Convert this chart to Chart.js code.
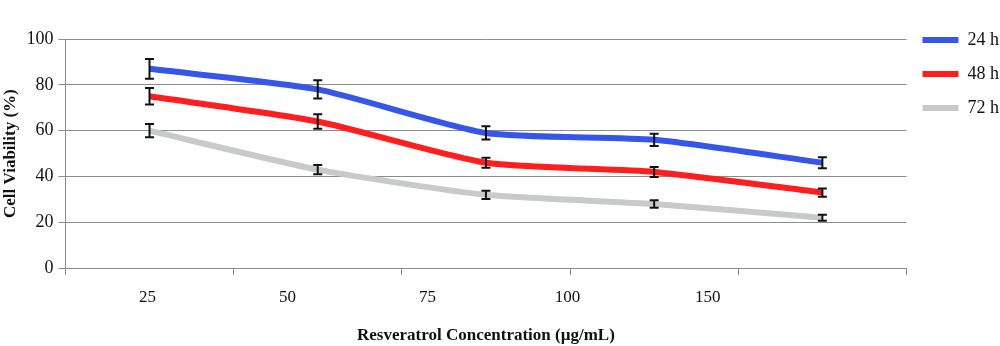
<!DOCTYPE html>
<html>
<head>
<meta charset="utf-8">
<script src="https://cdn.jsdelivr.net/npm/chart.js@4.4.1/dist/chart.umd.min.js"></script>
<style>
  html, body { margin: 0; padding: 0; background: #fff; }
  #wrap { width: 1000px; height: 346px; }
</style>
</head>
<body>
<div id="wrap"><canvas id="chart"></canvas></div>
<script>
// Values
const concLabels = ['25', '50', '75', '100', '150'];
const seriesNames = ['24 h', '48 h', '72 h'];
const viability24 = [87, 78, 59, 56, 46];
const viability48 = [75, 64, 46, 42, 33];
const viability72 = [60, 43, 32, 28, 22];
const err24 = [4.3, 4.0, 2.9, 2.7, 2.4];
const err48 = [3.6, 3.2, 2.2, 2.2, 1.8];
const err72 = [2.9, 2.0, 1.8, 1.6, 1.3];
const yTicks = [0, 20, 40, 60, 80, 100];

const colors = ['#3656EA', '#FF1E1E', '#C6CBC9'];
const gridGrey = '#8c8c8c';
const serif = "'Liberation Serif', 'DejaVu Serif', serif";

// Helper: draw error bars using the chart's own scales
const errorBars = {
  id: 'errorBars',
  afterDatasetsDraw(chart) {
    const ctx = chart.ctx;
    const yScale = chart.scales.y;
    ctx.save();
    ctx.strokeStyle = '#111';
    ctx.lineWidth = 2;
    chart.data.datasets.forEach((ds, i) => {
      const meta = chart.getDatasetMeta(i);
      meta.data.forEach((pt, j) => {
        const v = ds.data[j];
        const e = ds.errors[j];
        const top = yScale.getPixelForValue(v + e);
        const bot = yScale.getPixelForValue(v - e);
        const x = pt.x;
        ctx.beginPath();
        ctx.moveTo(x, top); ctx.lineTo(x, bot);
        ctx.moveTo(x - 4.5, top); ctx.lineTo(x + 4.5, top);
        ctx.moveTo(x - 4.5, bot); ctx.lineTo(x + 4.5, bot);
        ctx.stroke();
      });
    });
    ctx.restore();
  }
};

function makeSet(i, data, errors) {
  return {
    label: seriesNames[i],
    data: data,
    errors: errors,
    borderColor: colors[i],
    backgroundColor: colors[i],
    borderWidth: 6,
    pointRadius: 0,
    tension: 0.2,
    fill: false
  };
}

new Chart(document.getElementById('chart'), {
  type: 'line',
  data: {
    labels: concLabels,
    datasets: [
      makeSet(0, viability24, err24),
      makeSet(1, viability48, err48),
      makeSet(2, viability72, err72)
    ]
  },
  options: {
    responsive: true,
    maintainAspectRatio: false,
    animation: false,
    layout: { padding: { top: 15, left: 0, right: -9, bottom: 0 } },
    plugins: {
      // empty title only reserves room above the plot
      title: { display: true, text: '', font: { size: 10 }, padding: { top: 0, bottom: 12 } },
      tooltip: { enabled: false },
      legend: {
        position: 'right',
        align: 'start',
        labels: {
          boxWidth: 36,
          boxHeight: 6,
          useBorderRadius: true,
          borderRadius: 3,
          padding: 16,
          color: '#111',
          font: { family: serif, size: 18 },
          generateLabels(chart) {
            return chart.data.datasets.map((ds, i) => ({
              text: ds.label,
              fillStyle: ds.borderColor,
              strokeStyle: ds.borderColor,
              lineWidth: 0,
              fontColor: '#111',
              datasetIndex: i
            }));
          }
        }
      }
    },
    scales: {
      x: {
        type: 'category',
        offset: true,
        weight: 0,
        grid: { offset: true, drawOnChartArea: false, drawTicks: true, tickLength: 7, color: gridGrey },
        border: { color: gridGrey },
        ticks: { display: false }
      },
      x2: {
        type: 'linear',
        position: 'bottom',
        weight: 1,
        min: -0.586,
        max: 5.42,
        afterBuildTicks: (axis) => { axis.ticks = concLabels.map((_, i) => ({ value: i })); },
        grid: { display: false, drawTicks: false },
        border: { display: false },
        ticks: {
          padding: 12,
          autoSkip: false,
          maxRotation: 0,
          color: '#111',
          font: { family: serif, size: 17 },
          callback: (v) => concLabels[v] !== undefined ? concLabels[v] : ''
        },
        title: {
          display: true,
          text: 'Resveratrol Concentration (µg/mL)',
          color: '#111',
          font: { family: serif, size: 17, weight: 'bold' },
          padding: { top: 6, bottom: 0 }
        }
      },
      y: {
        min: 0,
        max: 100,
        afterBuildTicks: (axis) => { axis.ticks = yTicks.map(v => ({ value: v })); },
        grid: { color: gridGrey, tickLength: 7 },
        border: { color: gridGrey },
        ticks: {
          padding: 5,
          color: '#111',
          font: { family: serif, size: 18 }
        },
        title: {
          display: true,
          text: 'Cell Viability (%)',
          color: '#111',
          font: { family: serif, size: 17, weight: 'bold' },
          padding: { top: 0, bottom: 1 }
        }
      }
    }
  },
  plugins: [errorBars]
});
</script>
</body>
</html>
